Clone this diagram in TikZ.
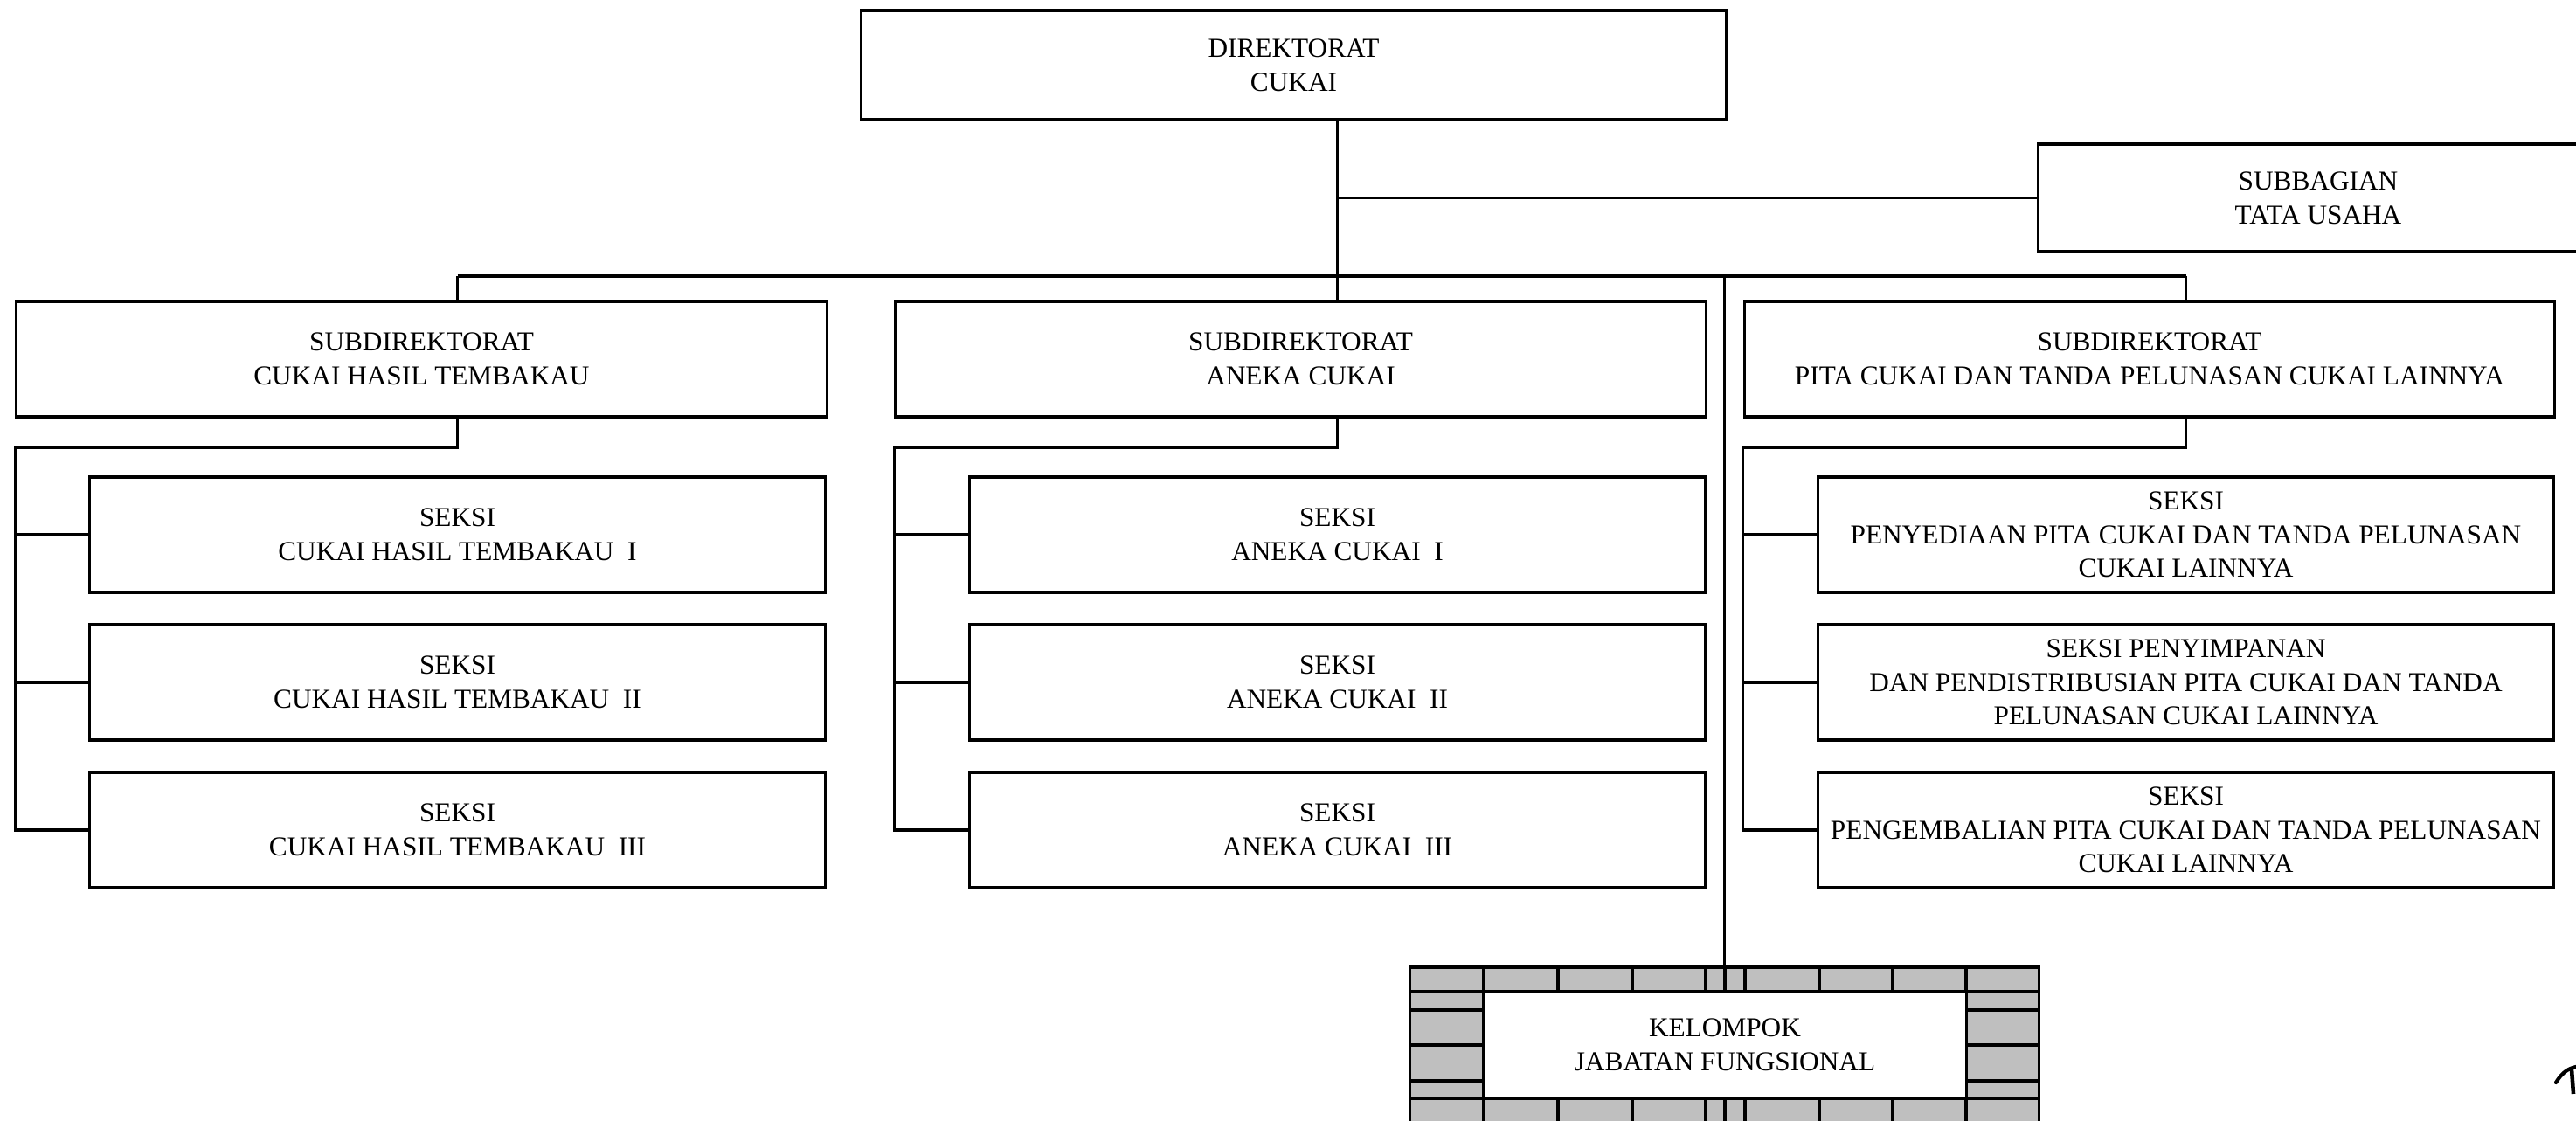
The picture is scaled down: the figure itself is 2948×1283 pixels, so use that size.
\documentclass[tikz,border=0pt]{standalone}
\usepackage{fontspec}
\setmainfont{Liberation Serif}
\usetikzlibrary{positioning, calc}

\tikzset{
  unitbox/.style={draw, line width=0.9pt, fill=white, align=center, inner sep=0pt,
    font=\fontsize{8.9}{11.0}\selectfont},
  subbox/.style={unitbox, minimum width=9.27cm, minimum height=1.32cm},
  seksibox/.style={unitbox, minimum width=8.42cm, minimum height=1.32cm},
  link/.style={line width=0.9pt},
}
\colorlet{brickgray}{black!25}

\begin{document}
\begin{tikzpicture}[x=0.01cm, y=-0.01cm]
  \useasboundingbox (0,0) rectangle (2948,1283);

  % Top level
  \node[unitbox, minimum width=9.89cm, minimum height=1.25cm] (dir) at (1480.5,74.5) {DIREKTORAT\\CUKAI};
  \node[unitbox, minimum width=6.40cm, minimum height=1.23cm] (tu) at (2653,226.5) {SUBBAGIAN\\TATA USAHA};

  % Subdirektorat row
  \node[subbox] (sd1) at (482.5,411) {SUBDIREKTORAT\\CUKAI HASIL TEMBAKAU};
  \node[subbox] (sd2) at (1488.5,411) {SUBDIREKTORAT\\ANEKA CUKAI};
  \node[subbox] (sd3) at (2460,411) {SUBDIREKTORAT\\PITA CUKAI DAN TANDA PELUNASAN CUKAI LAINNYA};

  % Seksi columns
  \node[seksibox] (s11) at (523.5,612) {SEKSI\\CUKAI HASIL TEMBAKAU\ \ I};
  \node[seksibox] (s12) at (523.5,781) {SEKSI\\CUKAI HASIL TEMBAKAU\ \ II};
  \node[seksibox] (s13) at (523.5,950) {SEKSI\\CUKAI HASIL TEMBAKAU\ \ III};
  \node[seksibox] (s21) at (1530.5,612) {SEKSI\\ANEKA CUKAI\ \ I};
  \node[seksibox] (s22) at (1530.5,781) {SEKSI\\ANEKA CUKAI\ \ II};
  \node[seksibox] (s23) at (1530.5,950) {SEKSI\\ANEKA CUKAI\ \ III};
  \node[seksibox] (s31) at (2501.5,612) {SEKSI\\PENYEDIAAN PITA CUKAI DAN TANDA PELUNASAN\\CUKAI LAINNYA};
  \node[seksibox] (s32) at (2501.5,781) {SEKSI PENYIMPANAN\\DAN PENDISTRIBUSIAN PITA CUKAI DAN TANDA\\PELUNASAN CUKAI LAINNYA};
  \node[seksibox] (s33) at (2501.5,950) {SEKSI\\PENGEMBALIAN PITA CUKAI DAN TANDA PELUNASAN\\CUKAI LAINNYA};

  % Kelompok jabatan fungsional with brick frame
  \node[draw, line width=0.9pt, fill=brickgray, minimum width=7.19cm, minimum height=1.78cm, inner sep=0pt] (kfr) at (1973.5,1196) {};
  \draw[link] (1614,1135) -- (2333,1135) (1614,1257) -- (2333,1257);
  \foreach \bx in {1698,1783,1868,1952,1974,1997,2082,2166,2250}
    \draw[link] (\bx,1107) -- (\bx,1135) (\bx,1257) -- (\bx,1285);
  \foreach \by in {1156,1196,1237}
    \draw[link] (1614,\by) -- (1698,\by) (2250,\by) -- (2333,\by);
  \node[unitbox, minimum width=5.52cm, minimum height=1.22cm] (kj) at (1974,1196) {KELOMPOK\\JABATAN FUNGSIONAL};

  % Connectors
  \coordinate (bus) at (0,316);
  \draw[link] (dir.south -| s21.north) -- (sd2.north -| s21.north);
  \draw[link] (tu.west -| s21.north) -- (tu.west);
  \draw[link] (bus -| s11.north) -- (bus -| s31.north);
  \draw[link] (bus -| s11.north) -- (sd1.north -| s11.north);
  \draw[link] (bus -| s31.north) -- (sd3.north -| s31.north);
  \draw[link] (bus -| kfr.north) -- (kfr.north);

  \foreach \i in {1,2,3} {
    \coordinate (k\i) at ($(sd\i.south west)+(0,34)$);
    \draw[link] (sd\i.south -| s\i1.north) |- (k\i) |- (s\i3.west);
    \draw[link] (k\i |- s\i1.west) -- (s\i1.west);
    \draw[link] (k\i |- s\i2.west) -- (s\i2.west);
  }

  % Pen stroke at the corner
  \draw[line width=1.2pt, line cap=round] (2925,1239) .. controls (2931,1229) and (2938,1223) .. (2948,1221);
  \draw[line width=1.3pt] (2943,1224) -- (2945,1252);
\end{tikzpicture}
\end{document}
